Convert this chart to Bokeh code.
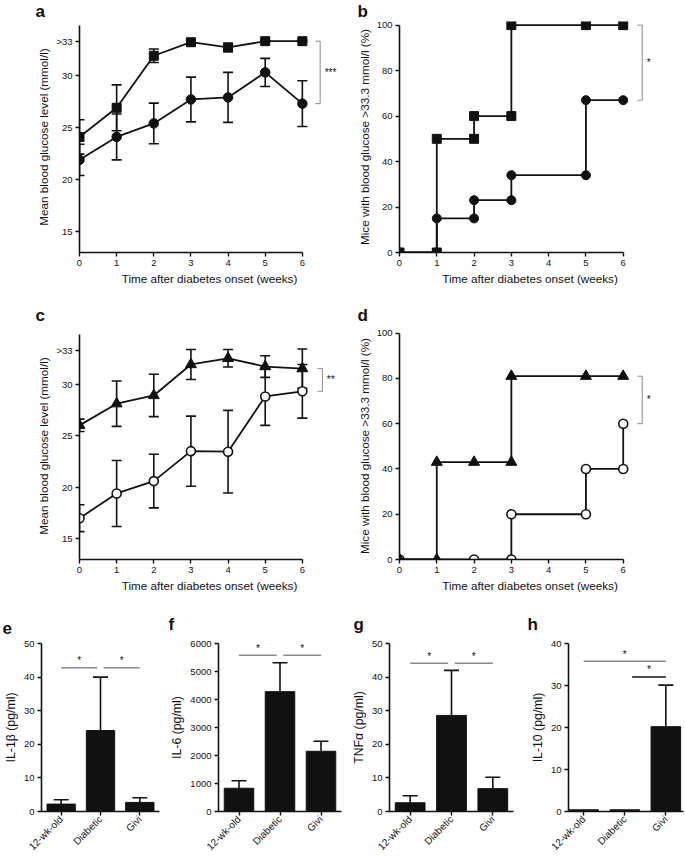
import math
from bokeh.plotting import figure
from bokeh.models import Range1d, FixedTicker, Whisker, TeeHead, ColumnDataSource, Label
from bokeh.layouts import column, row
from bokeh.embed import file_html
from bokeh.resources import INLINE

FONT = "Liberation Sans"
INK = "#111111"
GREY = "#8a8a8a"

# ---------------- data ----------------
weeks = [0, 1, 2, 3, 4, 5, 6]
week_ticks = [0, 1, 2, 3, 4, 5, 6]
glucose_ticks = [15, 20, 25, 30, 33.3]
glucose_labels = {33.3: ">33"}
pct_ticks = [0, 20, 40, 60, 80, 100]

a_square_mean = [24.1, 26.9, 31.9, 33.2, 32.7, 33.3, 33.3]
a_square_sem = [1.65, 2.2, 0.65, 0.2, 0.4, 0.1, 0.1]
a_circle_mean = [21.9, 24.1, 25.4, 27.7, 27.9, 30.3, 27.3]
a_circle_sem = [1.5, 2.2, 1.95, 2.15, 2.4, 1.35, 2.2]

b_square_week = [0, 1, 1, 2, 2, 3, 3, 5, 6]
b_square_pct = [0, 0, 50, 50, 60, 60, 100, 100, 100]
b_circle_week = [0, 1, 1, 2, 2, 3, 3, 5, 5, 6]
b_circle_pct = [0, 0, 15, 15, 23, 23, 34, 34, 67, 67]

c_triangle_mean = [26.0, 28.1, 28.9, 31.9, 32.5, 31.7, 31.5]
c_triangle_sem = [0.6, 2.2, 2.05, 1.45, 0.85, 1.05, 1.9]
c_open_mean = [17.0, 19.4, 20.6, 23.5, 23.45, 28.8, 29.3]
c_open_sem = [1.3, 3.2, 2.6, 3.4, 4.0, 2.8, 2.6]

d_triangle_week = [0, 1, 1, 2, 3, 3, 5, 6]
d_triangle_pct = [0, 0, 43, 43, 43, 81, 81, 81]
d_open_week = [0, 2, 3, 3, 5, 5, 6, 6]
d_open_pct = [0, 0, 0, 20, 20, 40, 40, 60]

groups = ["12-wk-old", "Diabetic", "Givi"]
il1b_mean = [2.2, 24.1, 2.7]
il1b_upper = [3.5, 40.0, 4.1]
il6_mean = [830, 4280, 2150]
il6_upper = [1100, 5310, 2510]
tnfa_mean = [2.6, 28.6, 6.8]
tnfa_upper = [4.7, 42.0, 10.2]
il10_mean = [0.4, 0.4, 20.2]
il10_upper = [0.4, 0.4, 30.1]

X_LABEL = "Time after diabetes onset (weeks)"
GLU_LABEL = "Mean blood glucose level (mmol/l)"
PCT_LABEL = "Mice with blood glucose >33.3 mmol/l (%)"

# ---------------- helpers ----------------
def make_fig(g, letter, letter_offset):
    p = figure(width=g["w"], height=g["h"], x_range=Range1d(*g["xr"]), y_range=Range1d(*g["yr"]),
               output_backend="svg", toolbar_location=None,
               min_border_left=g["bl"], min_border_right=g["br"],
               min_border_top=g["bt"], min_border_bottom=g["bb"])
    p.outline_line_color = None
    p.xgrid.visible = False
    p.ygrid.visible = False
    p.background_fill_color = "white"
    p.border_fill_color = "white"
    for ax in (p.xaxis[0], p.yaxis[0]):
        ax.axis_line_width = 1.6
        ax.axis_line_color = INK
        ax.major_tick_line_width = 1.4
        ax.major_tick_line_color = INK
        ax.major_tick_out = 4
        ax.major_tick_in = 0
        ax.minor_tick_line_color = None
        ax.major_label_text_font = FONT
        ax.major_label_text_font_size = "9.5px"
        ax.major_label_text_color = INK
        ax.major_label_standoff = 3
        ax.axis_label_text_font = FONT
        ax.axis_label_text_font_size = "11.7px"
        ax.axis_label_text_font_style = "normal"
        ax.axis_label_text_color = INK
        ax.axis_label_standoff = 3
    # panel letter as the title
    p.title.text = letter
    p.title.text_font = FONT
    p.title.text_font_size = "17px"
    p.title.text_font_style = "bold"
    p.title.text_color = INK
    p.title.align = "left"
    p.title.offset = letter_offset
    p.title.vertical_align = "middle"
    p.title.standoff = g["ts"]
    return p


def star(p, txt, x, y, size="10px", align="left"):
    p.add_layout(Label(x=x, y=y, text=txt, text_font=FONT, text_font_size=size,
                       text_color=INK, text_align=align, text_baseline="middle"))


def whiskers(p, xs, lo, hi, cap=10, lower_cap=True):
    src = ColumnDataSource(dict(x=xs, lower=lo, upper=hi))
    w = Whisker(source=src, base="x", lower="lower", upper="upper", dimension="height",
                line_color=INK, line_width=1.6,
                upper_head=TeeHead(size=cap, line_width=1.6, line_color=INK),
                lower_head=TeeHead(size=cap, line_width=1.6, line_color=INK) if lower_cap else None)
    p.add_layout(w)


def bracket(p, x, xs, y_top, y_bot, txt):
    p.line([xs, x, x, xs], [y_top, y_top, y_bot, y_bot], line_color=GREY, line_width=1)
    star(p, txt, x + 0.12, (y_top + y_bot) / 2)


def time_axes(p, yticks, ylabel, ybounds, overrides=None):
    p.xaxis.ticker = FixedTicker(ticks=week_ticks)
    p.xaxis.bounds = (0, 6)
    p.xaxis.axis_label = X_LABEL
    p.yaxis.ticker = FixedTicker(ticks=yticks)
    p.yaxis.bounds = ybounds
    p.yaxis.axis_label = ylabel
    if overrides:
        p.yaxis.major_label_overrides = overrides


# ---------------- geometry ----------------
GA = dict(w=340, h=290, bl=79, br=1, bt=21, bb=38, ts=-1, xr=(0, 7.0), yr=(13, 35.19))
GB = dict(w=345, h=290, bl=59, br=25, bt=21, bb=38, ts=-1, xr=(0, 7.0), yr=(0, 101.6))
GC = dict(w=340, h=306, bl=79, br=1, bt=42, bb=37, ts=14, xr=(0, 7.0), yr=(13, 35))
GD = dict(w=345, h=306, bl=59, br=25, bt=42, bb=37, ts=14, xr=(0, 7.0), yr=(0, 100.3))
GE = dict(w=166, h=262, bl=39, br=7, bt=47, bb=40, ts=18, xr=(0, 3), yr=(0, 50))
GF = dict(w=178, h=262, bl=52, br=3, bt=47, bb=40, ts=18, xr=(0, 3), yr=(0, 6000))
GG = dict(w=176, h=262, bl=45, br=7, bt=47, bb=40, ts=18, xr=(0, 3), yr=(0, 50))
GH = dict(w=165, h=262, bl=48, br=2, bt=47, bb=40, ts=18, xr=(0.13, 2.93), yr=(0, 40))

# ---------------- panel a ----------------
pa = make_fig(GA, "a", -44)
time_axes(pa, glucose_ticks, GLU_LABEL, (13, 34.8), glucose_labels)
whiskers(pa, weeks, [m - s for m, s in zip(a_square_mean, a_square_sem)],
         [m + s for m, s in zip(a_square_mean, a_square_sem)])
whiskers(pa, weeks, [m - s for m, s in zip(a_circle_mean, a_circle_sem)],
         [m + s for m, s in zip(a_circle_mean, a_circle_sem)])
pa.line(weeks, a_square_mean, line_color=INK, line_width=1.8)
pa.line(weeks, a_circle_mean, line_color=INK, line_width=1.8)
pa.scatter(weeks, a_square_mean, marker="square", size=9, color=INK)
pa.scatter(weeks, a_circle_mean, marker="circle", size=9.5, color=INK)
bracket(pa, 6.48, 6.35, a_square_mean[-1], a_circle_mean[-1], "***")

# ---------------- panel b ----------------
pb = make_fig(GB, "b", -42)
time_axes(pb, pct_ticks, PCT_LABEL, (0, 100))
pb.line(b_circle_week, b_circle_pct, line_color=INK, line_width=1.8)
pb.line(b_square_week, b_square_pct, line_color=INK, line_width=1.8)
pb.scatter(b_circle_week, b_circle_pct, marker="circle", size=9, color=INK)
pb.scatter(b_square_week, b_square_pct, marker="square", size=9, color=INK)
bracket(pb, 6.51, 6.38, b_square_pct[-1], b_circle_pct[-1], "*")

# ---------------- panel c ----------------
pc = make_fig(GC, "c", -44)
time_axes(pc, glucose_ticks, GLU_LABEL, (13, 34.8), glucose_labels)
whiskers(pc, weeks, [m - s for m, s in zip(c_triangle_mean, c_triangle_sem)],
         [m + s for m, s in zip(c_triangle_mean, c_triangle_sem)])
whiskers(pc, weeks, [m - s for m, s in zip(c_open_mean, c_open_sem)],
         [m + s for m, s in zip(c_open_mean, c_open_sem)])
pc.line(weeks, c_triangle_mean, line_color=INK, line_width=1.8)
pc.line(weeks, c_open_mean, line_color=INK, line_width=1.8)
pc.scatter(weeks, c_triangle_mean, marker="triangle", size=11, color=INK)
pc.scatter(weeks, c_open_mean, marker="circle", size=9, fill_color="white", line_color=INK, line_width=1.6)
bracket(pc, 6.54, 6.41, c_triangle_mean[-1], c_open_mean[-1], "**")

# ---------------- panel d ----------------
pd_ = make_fig(GD, "d", -42)
time_axes(pd_, pct_ticks, PCT_LABEL, (0, 100))
pd_.line(d_open_week, d_open_pct, line_color=INK, line_width=1.8)
pd_.line(d_triangle_week, d_triangle_pct, line_color=INK, line_width=1.8)
pd_.scatter(d_open_week, d_open_pct, marker="circle", size=9, fill_color="white", line_color=INK, line_width=1.6)
pd_.scatter(d_triangle_week, d_triangle_pct, marker="triangle", size=11, color=INK)
bracket(pd_, 6.51, 6.38, d_triangle_pct[-1], d_open_pct[-1], "*")

# ---------------- bar panels ----------------
BAR_POS = [i + 0.5 for i in range(len(groups))]


def bar_panel(g, letter, off, means, uppers, ticks, ylabel, cap=15):
    p = make_fig(g, letter, off)
    p.xaxis.ticker = FixedTicker(ticks=BAR_POS)
    p.xaxis.major_label_overrides = {x: n for x, n in zip(BAR_POS, groups)}
    p.xaxis.major_label_orientation = math.pi / 4
    p.xaxis.major_label_text_font_size = "10px"
    p.xaxis.major_label_standoff = 2
    p.yaxis.ticker = FixedTicker(ticks=ticks)
    p.yaxis.axis_label = ylabel
    p.yaxis.axis_label_text_font_size = "12.3px"
    xs = [x for x, m, u in zip(BAR_POS, means, uppers) if u > m]
    lo = [m for m, u in zip(means, uppers) if u > m]
    hi = [u for m, u in zip(means, uppers) if u > m]
    whiskers(p, xs, lo, hi, cap=cap, lower_cap=False)
    p.vbar(x=BAR_POS, top=means, bottom=0, width=0.72, color=INK)
    return p


def sig(p, x0, x1, y, ystar, color=GREY):
    p.segment(x0=[x0], y0=[y], x1=[x1], y1=[y], line_color=color, line_width=1.5)
    star(p, "*", (x0 + x1) / 2, ystar, size="10px", align="center")


pe = bar_panel(GE, "e", -39, il1b_mean, il1b_upper, [0, 10, 20, 30, 40, 50], "IL-1β (pg/ml)")
sig(pe, 0.5, 1.42, 42.8, 45.0)
sig(pe, 1.58, 2.5, 42.8, 45.0)

pf = bar_panel(GF, "f", -50, il6_mean, il6_upper, [0, 1000, 2000, 3000, 4000, 5000, 6000], "IL-6 (pg/ml)")
sig(pf, 0.5, 1.42, 5577, 5830)
sig(pf, 1.58, 2.5, 5577, 5830)

pg = bar_panel(GG, "g", -36, tnfa_mean, tnfa_upper, [0, 10, 20, 30, 40, 50], "TNFα (pg/ml)")
sig(pg, 0.5, 1.42, 44.1, 46.0)
sig(pg, 1.58, 2.5, 44.1, 46.0)

ph = bar_panel(GH, "h", -41, il10_mean, il10_upper, [0, 10, 20, 30, 40], "IL-10 (pg/ml)")
sig(ph, 0.5, 2.5, 35.8, 37.3)
sig(ph, 1.68, 2.5, 32.0, 33.7, color=INK)

layout = column(row(pa, pb), row(pc, pd_), row(pe, pf, pg, ph))
open("out.html", "w").write(file_html(layout, INLINE))
